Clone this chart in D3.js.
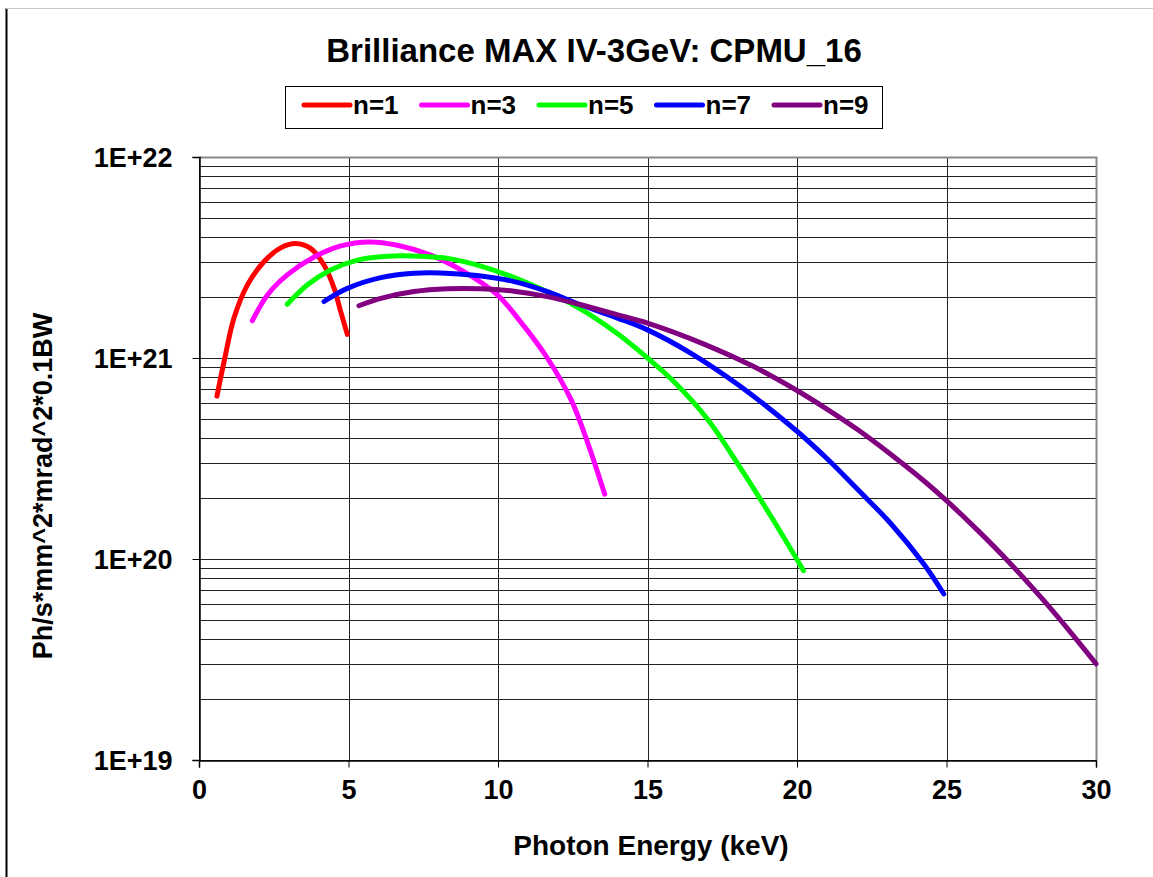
<!DOCTYPE html>
<html>
<head>
<meta charset="utf-8">
<script src="https://cdn.jsdelivr.net/npm/d3@7"></script>
<style>
    body { margin: 0; background: #fff; }
    svg { display: block; font-family: "Liberation Sans", Arial, sans-serif; }
</style>
</head>
<body>
<div id="chart"></div>
<script>

// harmonic names + colours
var seriesNames = ["n=1", "n=3", "n=5", "n=7", "n=9"];
var seriesColors = ["#ff0000", "#ff00ff", "#00ff00", "#0000ff", "#800080"];

// photon energy (keV) and brilliance
var n1Energy = [0.6, 0.84, 1.17, 1.62, 2.17, 2.73, 3.23, 3.73, 4.18, 4.52, 4.74, 4.96];
var n1Brill = [6.46e20, 9.62e20, 1.58e21, 2.31e21, 3.01e21, 3.53e21, 3.71e21, 3.51e21, 2.90e21, 2.22e21, 1.70e21, 1.31e21];

var n3Energy = [1.78, 2.29, 2.95, 3.85, 4.74, 5.69, 6.63, 7.75, 8.86, 9.98, 10.73, 11.65, 12.45, 12.98, 13.57];
var n3Brill = [1.53e21, 2.06e21, 2.59e21, 3.18e21, 3.61e21, 3.78e21, 3.64e21, 3.25e21, 2.69e21, 2.06e21, 1.53e21, 1.00e21, 6.17e20, 3.86e20, 2.10e20];

var n5Energy = [2.95, 3.62, 4.40, 5.30, 6.30, 7.41, 8.31, 9.40, 10.99, 12.71, 14.0, 15.0, 15.87, 16.99, 18.10, 19.22, 20.22];
var n5Brill = [1.85e21, 2.31e21, 2.74e21, 3.07e21, 3.21e21, 3.21e21, 3.13e21, 2.87e21, 2.36e21, 1.77e21, 1.32e21, 1.00e21, 7.66e20, 5.00e20, 2.85e20, 1.55e20, 8.75e19];

var n7Energy = [4.18, 4.96, 6.08, 7.19, 8.08, 9.30, 10.54, 11.65, 12.76, 14.0, 15.0, 16.43, 18.10, 20.0, 21.0, 22.0, 23.12, 24.24, 24.91];
var n7Brill = [1.91e21, 2.22e21, 2.51e21, 2.64e21, 2.65e21, 2.57e21, 2.40e21, 2.14e21, 1.84e21, 1.58e21, 1.38e21, 1.06e21, 7.23e20, 4.32e20, 3.16e20, 2.24e20, 1.51e20, 9.44e19, 6.70e19];

var n9Energy = [5.35, 6.08, 7.19, 8.31, 9.42, 10.54, 11.65, 12.76, 14.0, 15.0, 16.99, 18.5, 20.0, 21.0, 22.0, 23.12, 24.24, 25.0, 26.02, 27.14, 28.25, 29.35, 30.0];
var n9Brill = [1.82e21, 1.98e21, 2.14e21, 2.21e21, 2.21e21, 2.15e21, 2.02e21, 1.84e21, 1.64e21, 1.49e21, 1.156e21, 9.14e20, 6.89e20, 5.57e20, 4.43e20, 3.33e20, 2.45e20, 1.95e20, 1.40e20, 9.48e19, 6.22e19, 3.97e19, 3.01e19];

var xTicks = [0, 5, 10, 15, 20, 25, 30];
var yTicks = [1e19, 1e20, 1e21, 1e22];

var titleText = "Brilliance MAX IV-3GeV: CPMU_16";
var xTitle = "Photon Energy (keV)";
var yTitle = "Ph/s*mm^2*mrad^2*0.1BW";


var width = 1153;
var height = 877;
var plot = { left: 199, right: 1096, top: 157, bottom: 760 };

var allEnergy = [n1Energy, n3Energy, n5Energy, n7Energy, n9Energy];
var allBrill = [n1Brill, n3Brill, n5Brill, n7Brill, n9Brill];

var series = seriesNames.map(function (name, i) {
    return {
        name: name,
        color: seriesColors[i],
        points: allEnergy[i].map(function (e, j) { return { x: e, y: allBrill[i][j] }; })
    };
});

var x = d3.scaleLinear().domain([0, 30]).range([plot.left, plot.right]);
var y = d3.scaleLog().domain([1e19, 1e22]).range([plot.bottom, plot.top]);

var svg = d3.select("#chart")
    .append("svg")
    .attr("width", width)
    .attr("height", height);

// outer frame (only left + top edges show)
svg.append("line").attr("x1", 6.5).attr("x2", 6.5).attr("y1", 8).attr("y2", height)
    .attr("stroke", "#000").attr("stroke-width", 2);
svg.append("line").attr("x1", 6).attr("x2", width).attr("y1", 8.5).attr("y2", 8.5)
    .attr("stroke", "#c8c8c8").attr("stroke-width", 1);

// horizontal grid: every minor log step
var gridVals = [];
[19, 20, 21].forEach(function (p) {
    for (var k = 1; k <= 9; k++) gridVals.push(k * Math.pow(10, p));
});
gridVals.push(1e22);

svg.append("g")
    .selectAll("line")
    .data(gridVals)
    .enter()
    .append("line")
    .attr("x1", plot.left)
    .attr("x2", plot.right)
    .attr("y1", function (d) { return Math.round(y(d)) + 0.5; })
    .attr("y2", function (d) { return Math.round(y(d)) + 0.5; })
    .attr("stroke", "#222")
    .attr("stroke-width", 1);

// vertical grid
svg.append("g")
    .selectAll("line")
    .data(xTicks)
    .enter()
    .append("line")
    .attr("x1", function (d) { return Math.round(x(d)) + 0.5; })
    .attr("x2", function (d) { return Math.round(x(d)) + 0.5; })
    .attr("y1", plot.top)
    .attr("y2", plot.bottom)
    .attr("stroke", "#222")
    .attr("stroke-width", 1);

// plot border top / right in grey
svg.append("path")
    .attr("d", "M" + plot.left + "," + (plot.top + 0.5) + "H" + (plot.right + 0.5) + "V" + plot.bottom)
    .attr("fill", "none")
    .attr("stroke", "#888")
    .attr("stroke-width", 2);

// axes
var xAxis = d3.axisBottom(x).tickValues(xTicks).tickSize(7).tickPadding(12)
    .tickFormat(function (d) { return d; });
var yAxis = d3.axisLeft(y).tickValues(yTicks).tickSize(7).tickPadding(20)
    .tickFormat(function (d) { return "1E+" + Math.round(Math.log10(d)); });

var gx = svg.append("g")
    .attr("transform", "translate(0," + (plot.bottom + 0.5) + ")")
    .call(xAxis);
var gy = svg.append("g")
    .attr("transform", "translate(" + (plot.left + 0.5) + ",0)")
    .call(yAxis);

[gx, gy].forEach(function (g) {
    g.select(".domain").attr("stroke", "#000").attr("stroke-width", 1.5);
    g.selectAll(".tick line").attr("stroke", "#000");
    g.selectAll(".tick text")
        .attr("fill", "#000")
        .style("font-size", "27px")
        .style("font-weight", "bold")
        .style("font-family", "'Liberation Sans', Arial, sans-serif");
});
gy.selectAll(".tick text").attr("dy", "0.36em");

// curves
var line = d3.line()
    .x(function (d) { return x(d.x); })
    .y(function (d) { return y(d.y); })
    .curve(d3.curveCatmullRom.alpha(0.5));

svg.append("g")
    .selectAll("path")
    .data(series)
    .enter()
    .append("path")
    .attr("d", function (d) { return line(d.points); })
    .attr("fill", "none")
    .attr("stroke", function (d) { return d.color; })
    .attr("stroke-width", 5)
    .attr("stroke-linecap", "round")
    .attr("stroke-linejoin", "round");

// title
svg.append("text")
    .attr("x", 594)
    .attr("y", 62)
    .attr("text-anchor", "middle")
    .style("font-size", "33px")
    .style("font-weight", "bold")
    .text(titleText);

// legend
var legend = svg.append("g");
legend.append("rect")
    .attr("x", 285.5)
    .attr("y", 86.5)
    .attr("width", 597)
    .attr("height", 42)
    .attr("fill", "#fff")
    .attr("stroke", "#000")
    .attr("stroke-width", 1);

var item = legend.selectAll("g.item")
    .data(series)
    .enter()
    .append("g")
    .attr("class", "item")
    .attr("transform", function (d, i) { return "translate(" + (304 + i * 117.5) + ",105)"; });

item.append("line")
    .attr("x1", 0)
    .attr("x2", 46)
    .attr("stroke", function (d) { return d.color; })
    .attr("stroke-width", 5)
    .attr("stroke-linecap", "round");

item.append("text")
    .attr("x", 49)
    .attr("y", 9)
    .style("font-size", "26px")
    .style("font-weight", "bold")
    .text(function (d) { return d.name; });

// axis titles
svg.append("text")
    .attr("x", 651)
    .attr("y", 855)
    .attr("text-anchor", "middle")
    .style("font-size", "28px")
    .style("font-weight", "bold")
    .text(xTitle);

svg.append("text")
    .attr("transform", "translate(52,486) rotate(-90)")
    .attr("text-anchor", "middle")
    .style("font-size", "27px")
    .style("font-weight", "bold")
    .text(yTitle);

</script>
</body>
</html>
